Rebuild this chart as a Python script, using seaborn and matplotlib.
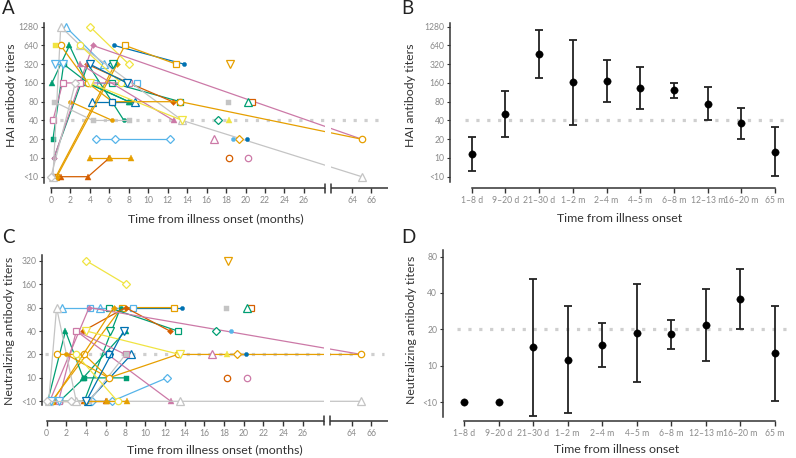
import numpy as np
import matplotlib
matplotlib.use("Agg")
import matplotlib.pyplot as plt
import matplotlib.transforms as mtransforms
from matplotlib.ticker import NullLocator
import seaborn as sns

sns.set_style("ticks")
plt.rcParams['font.family'] = ['Lato', 'DejaVu Sans']

# ---------------- data ----------------
OR, SB, GR, YE, BL, VE, PK, GY = ('#E69F00', '#56B4E9', '#009E73', '#F0E442',
                                  '#0072B2', '#D55E00', '#CC79A7', '#C4C4C4')

subj_color = [BL, OR, SB, BL, SB, SB, YE, GR, GR, GR, GR, VE, VE, PK, PK, PK,
              GY, GY, GY, OR, OR, OR, OR, OR, OR, VE, VE, GR, GR, SB, BL, PK,
              PK, YE, YE, YE, YE, SB, BL, BL, BL, GR, GY]
subj_marker = ['fc', 'os', 'ot', 'ot', 'os', 'od', 'od', 'ft', 'fs', 'os', 'fc', 'fd', 'ft', 'fd', 'ft', 'os',
               'ot', 'fs', 'fs', 'fc', 'ft', 'oc', 'fd', 'ov', 'od', 'oc', 'os', 'ot', 'od', 'fc', 'fc', 'ot',
               'oc', 'ft', 'ov', 'oc', 'fs', 'ov', 'od', 'os', 'ov', 'ov', 'od']
subj_months = [
    [6.5, 13.7], [0.5, 7.6, 12.9], [1.5, 5.4], [4.2, 8.6], [4.4, 8.8], [4.6, 6.6, 12.2],
    [4.0, 8.0], [0.1, 1.9, 3.7, 8.0], [0.2, 1.3, 3.8, 8.0], [6.3, 13.3], [0.3, 3.8, 7.5],
    [3.7, 8.0, 12.5], [0.4, 1.0, 3.8, 6.0], [0.3, 4.3, 65], [3.0, 12.6], [0.2, 1.2, 3.0, 8.0],
    [0.2, 1.0, 3.0, 13.5, 65], [0.3, 4.3, 8.0], [18.2], [2.0, 6.3], [4.0, 6.1, 8.2],
    [1.0, 3.8, 6.3, 13.3, 65], [0.6, 6.8], [18.4], [19.3], [18.3], [20.7], [20.3], [17.2],
    [18.7], [20.2], [16.8], [20.3], [18.3], [4.0, 13.5], [3.0, 7.2], [0.4], [0.4, 1.2],
    [6.3], [6.3], [4.0, 7.8], [6.4], [0.0, 2.5]]
# HAI titers (5 = "<10")
hai_titers = [
    [640, 320], [5, 640, 320], [1280, 320], [80, 80], [160, 160], [20, 20, 20],
    [1280, 320], [160, 640, 160, 80], [20, 320, 160, 80], [160, 80], [10, 320, 40],
    [320, 160, 80], [5, 5, 5, 10], [10, 640, 20], [320, 40], [40, 160, 160, 160],
    [5, 1280, 640, 40, 5], [80, 40, 40], [80], [80, 40], [10, 10, 10],
    [640, 160, 80, 80, 20], [5, 320], [320], [20], [10], [80], [80], [40],
    [20], [20], [20], [10], [40], [160, 40], [640, 160], [640], [320, 320],
    [320], [80], [320, 160], [320], [5, 160]]
# Neutralizing titers (5 = "<10")
neut_titers = [
    [80, 80], [5, 80, 80], [80, 80], [5, 20], [80, 80], [5, 5, 10],
    [320, 160], [5, 40, 10, 40], [5, 5, 10, 10], [80, 40], [5, 5, 80],
    [40, 80, 40], [5, 5, 5, 5], [5, 80, 20], [40, 5], [5, 5, 40, 20],
    [5, 80, 5, 5, 5], [5, 5, 20], [80], [20, 10], [5, 5, 5],
    [20, 20, 10, 20, 20], [5, 80], [320], [20], [10], [80], [80], [40],
    [40], [20], [20], [10], [20], [40, 20], [20, 5], [5], [5, 5],
    [20], [20], [5, 40], [40], [5, 5]]

groups = ['1–8 d', '9–20 d', '21–30 d', '1–2 m', '2–4 m', '4–5 m', '6–8 m',
          '12–13 m', '16–20 m', '65 m']
hai_gmt = [11.6, 51.3, 462, 163, 171, 131, 122, 74, 36, 12.6]
hai_lo = [6.1, 21.9, 192, 33.4, 80, 60, 92.5, 40.5, 20.1, 5.1]
hai_hi = [21.9, 120, 1122, 794, 370, 292, 161, 139, 64, 31.4]
neut_gmt = [5, 5, 14.2, 11.2, 14.8, 18.7, 18.2, 21.6, 35.8, 12.7]
neut_lo = [5, 5, 3.86, 4.1, 9.8, 7.3, 13.7, 10.9, 20.1, 5.1]
neut_hi = [5, 5, 52, 31, 22.7, 47.9, 24.1, 43.5, 63.2, 31]

hai_ticks = [5, 10, 20, 40, 80, 160, 320, 640, 1280]
neut_ticks_c = [5, 10, 20, 40, 80, 160, 320]
neut_ticks_d = [5, 10, 20, 40, 80]
month_ticks = [0, 2, 4, 6, 8, 10, 12, 14, 16, 18, 20, 22, 24, 26, 64, 66]

# ---------------- helpers ----------------
W, H = 796, 458
fig = plt.figure(figsize=(W / 100, H / 100), dpi=100)

def axes_px(l, t, r, b):
    return fig.add_axes([l / W, 1 - b / H, (r - l) / W, (b - t) / H])

GAP = 33.05
def tx(t):
    return t if t < 40 else t - GAP

SPINE = '#333333'
TICKC = '#8a8a8a'
LABC = '#333333'
REFC = '#cfcfcf'
LABFS = 8.9
TICKFS = 6.2

mk_style = {
    'fc': ('o', 3.0, True), 'fs': ('s', 3.6, True), 'ft': ('^', 4.0, True),
    'fd': ('D', 3.0, True), 'oc': ('o', 4.6, False), 'os': ('s', 4.6, False),
    'ot': ('^', 5.2, False), 'od': ('D', 4.5, False), 'ov': ('v', 5.2, False),
}

def style_axes(ax, yticks, ylo, yhi, lab, labx, laby):
    ax.set_yscale('log', base=2)
    ax.set_ylim(5 * 2 ** ylo, 5 * 2 ** yhi)
    ax.set_yticks(yticks)
    ax.set_yticklabels(['<10' if v == 5 else str(v) for v in yticks])
    ax.yaxis.set_minor_locator(NullLocator())
    for s in ['top', 'right']:
        ax.spines[s].set_visible(False)
    for s in ['left', 'bottom']:
        ax.spines[s].set_color(SPINE)
        ax.spines[s].set_linewidth(1.1)
    ax.tick_params(axis='y', length=2.5, width=0.8, pad=1.5, labelsize=TICKFS,
                   labelcolor=TICKC, color=SPINE)
    ax.tick_params(axis='x', length=3.5, width=1.0, pad=2.5, labelsize=TICKFS,
                   labelcolor=TICKC, color=SPINE)
    ax.set_ylabel(lab, fontsize=LABFS, color=LABC)
    ax.yaxis.set_label_coords(labx, laby)
    ax.set_facecolor('none')

def traj_panel(ax, values, ref, yticks, ylo, yhi, ylab, labx, laby, brk):
    ax.set_xlim(brk['xlo'], 34.65)
    for c, m, ts, vs in zip(subj_color, subj_marker, subj_months, values):
        mk, ms, filled = mk_style[m]
        sns.lineplot(x=[tx(t) for t in ts], y=vs, ax=ax, color=c, lw=0.9,
                     marker=mk, markersize=ms,
                     markerfacecolor=c if filled else 'white',
                     markeredgecolor=c, markeredgewidth=0.9 if not filled else 0.3,
                     sort=False, estimator=None, legend=False, zorder=2,
                     clip_on=False)
    ax.hlines(ref, -0.2, 34.2, color=REFC, lw=2.3, linestyles=(0, (1, 2.4)),
              zorder=1.5)
    style_axes(ax, yticks, ylo, yhi, ylab, labx, laby)
    # break gap
    ax.axvspan(28.15, 28.8, color='white', zorder=2.6, lw=0)
    ax.set_xticks([tx(v) for v in month_ticks])
    ax.set_xticklabels([str(v) for v in month_ticks])
    ax.spines['bottom'].set_bounds(0, 28.15)
    ax.spines['left'].set_bounds(5 * 2 ** brk['ylb'], 5 * 2 ** yhi)
    trans = mtransforms.blended_transform_factory(ax.transData, ax.transAxes)
    ax.plot([28.8, 34.65], [0, 0], transform=trans, color=SPINE, lw=1.1,
            clip_on=False, zorder=5, solid_capstyle='butt')
    hh = 4.5 / brk['hpx']
    for xb in (28.15, 28.8):
        ax.plot([xb, xb], [-hh, hh], transform=trans, color=SPINE, lw=1.1,
                clip_on=False, zorder=5)
    ax.set_xlabel('Time from illness onset (months)', fontsize=LABFS, color=LABC)
    ax.xaxis.set_label_coords(brk['xlx'], brk['xly'])

def err_panel(ax, gmt, lo, hi, ref, yticks, ylo, yhi, ylab, labx, laby, xlo,
              xly, spine_lo):
    x = np.arange(len(groups))
    ax.hlines(ref, -0.2, 9.43, color=REFC, lw=2.3, linestyles=(0, (1, 2.4)),
              zorder=1)
    gmt = np.array(gmt); lo = np.array(lo); hi = np.array(hi)
    has = hi > lo
    ax.errorbar(x[has], gmt[has], yerr=[gmt[has] - lo[has], hi[has] - gmt[has]],
                fmt='none', ecolor='#222222', elinewidth=1.3, capsize=3.2,
                capthick=1.3, zorder=2, clip_on=False)
    sns.scatterplot(x=x, y=gmt, ax=ax, color='black', s=28, edgecolor='black',
                    linewidth=0.3, zorder=3, legend=False, clip_on=False)
    ax.set_xlim(xlo, 9.44)
    style_axes(ax, yticks, ylo, yhi, ylab, labx, laby)
    ax.set_xticks(x)
    ax.set_xticklabels(groups)
    ax.spines['bottom'].set_bounds(0, 9)
    ax.spines['left'].set_bounds(5 * 2 ** spine_lo, 5 * 2 ** yhi)
    ax.set_xlabel('Time from illness onset', fontsize=LABFS, color=LABC)
    ax.xaxis.set_label_coords(0.5, xly)

# ---------------- panels ----------------
axA = axes_px(44, 23, 388, 188)
traj_panel(axA, hai_titers, 40, hai_ticks, -0.603, 8.197, 'HAI antibody titers',
           -0.078, 0.56, dict(xlo=-0.72, ylb=-0.34, hpx=165, xlx=0.5, xly=-0.152))

axB = axes_px(450, 23, 790, 188)
err_panel(axB, hai_gmt, hai_lo, hai_hi, 40, hai_ticks, -0.603, 8.197,
          'HAI antibody titers', -0.1, 0.56, -0.644, -0.152, -0.3)

axC = axes_px(42.3, 255, 388, 420.7)
traj_panel(axC, neut_titers, 20, neut_ticks_c, -0.828, 6.244,
           'Neutralizing antibody titers', -0.079, 0.544,
           dict(xlo=-0.45, ylb=-0.16, hpx=165.7, xlx=0.5, xly=-0.14))

axD = axes_px(442.7, 250, 790, 420.7)
err_panel(axD, neut_gmt, neut_lo, neut_hi, 20, neut_ticks_d, -0.505, 4.18,
          'Neutralizing antibody titers', -0.074, 0.531, -0.616, -0.137, -0.4)

for lab, (px, py) in zip('ABCD', [(2, 0), (401, 0), (2, 229), (401, 229)]):
    fig.text(px / W, 1 - py / H, lab, fontsize=13.5, va='top', ha='left',
             color='#222222')

fig.savefig('out.png', dpi=100)
